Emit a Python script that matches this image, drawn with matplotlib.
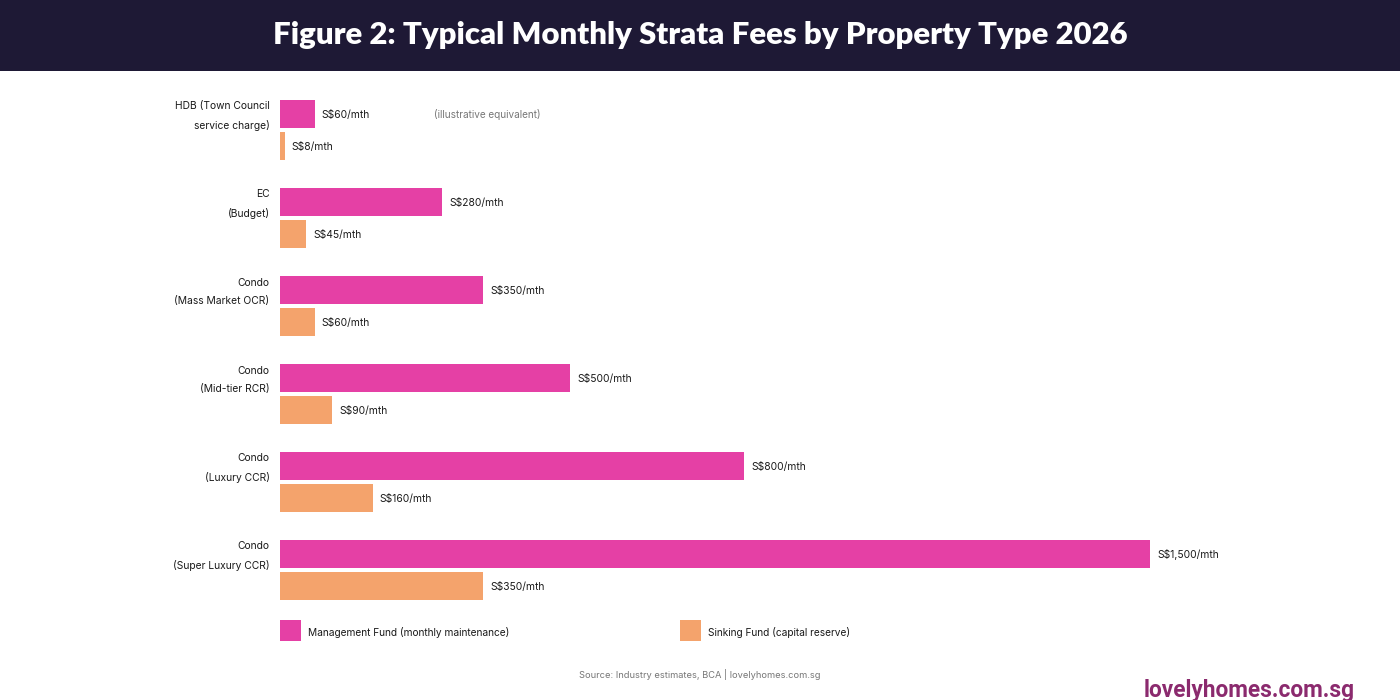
import matplotlib
matplotlib.use("Agg")
import matplotlib.pyplot as plt
from matplotlib.patches import Rectangle

categories = ["HDB (Town Council\nservice charge)", "EC\n(Budget)", "Condo\n(Mass Market OCR)",
              "Condo\n(Mid-tier RCR)", "Condo\n(Luxury CCR)", "Condo\n(Super Luxury CCR)"]
management = [60, 280, 350, 500, 800, 1500]
sinking = [8, 45, 60, 90, 160, 350]
mgmt_labels = ["S$60/mth", "S$280/mth", "S$350/mth", "S$500/mth", "S$800/mth", "S$1,500/mth"]
sink_labels = ["S$8/mth", "S$45/mth", "S$60/mth", "S$90/mth", "S$160/mth", "S$350/mth"]
legend_labels = ["Management Fund (monthly maintenance)", "Sinking Fund (capital reserve)"]

PINK = "#e540a5"
ORANGE = "#f4a36c"
NAVY = "#1e1935"
TXT = "#1a1a1a"
FONT = "Inter"

W, H = 1400, 700
fig = plt.figure(figsize=(14, 7), dpi=100)
fig.patch.set_facecolor("white")

# title bar
fig.add_artist(Rectangle((0, 1 - 71 / H), 1, 71 / H, transform=fig.transFigure,
                         facecolor=NAVY, edgecolor="none"))
fig.text(0.5, 1 - 35 / H, "Figure 2: Typical Monthly Strata Fees by Property Type 2026",
         ha="center", va="center", color="white", fontsize=22.4, fontweight="heavy",
         family="Lato")

# axes geometry: x 0 at px 280, 0.58 px per unit
left_px, width_px = 280, 1000
scale = 0.58
top_px, bot_px = 86, 614
ax = fig.add_axes([left_px / W, 1 - bot_px / H, width_px / W, (bot_px - top_px) / H])
ax.set_xlim(0, width_px / scale)
ax.set_ylim(5.5, -0.5)
ax.axis("off")

off = 16 / 88
bh = 28 / 88
ys = list(range(len(categories)))
ax.barh([y - off for y in ys], management, height=bh, color=PINK)
ax.barh([y + off for y in ys], sinking, height=bh, color=ORANGE)

for y, v, lab in zip(ys, management, mgmt_labels):
    ax.annotate(lab, (v, y - off), xytext=(5, -0.5), textcoords="offset points",
                ha="left", va="center", fontsize=7.4, color=TXT, family=FONT)
for y, v, lab in zip(ys, sinking, sink_labels):
    ax.annotate(lab, (v, y + off), xytext=(5, -0.5), textcoords="offset points",
                ha="left", va="center", fontsize=7.4, color=TXT, family=FONT)

for y, cat in zip(ys, categories):
    ax.annotate(cat, (0, y - off), xytext=(-7.5, -1.5), textcoords="offset points",
                ha="right", va="center", fontsize=7.4, color=TXT, family=FONT,
                linespacing=2.0)

fig.text(434 / W, 1 - 114 / H, "(illustrative equivalent)", ha="left", va="center",
         fontsize=7.2, color="#777777", family=FONT)

# legend
for x0, col, lab in [(280, PINK, legend_labels[0]), (680, ORANGE, legend_labels[1])]:
    fig.add_artist(Rectangle((x0 / W, 1 - 641 / H), 21 / W, 21 / H, transform=fig.transFigure,
                             facecolor=col, edgecolor="none"))
    fig.text((x0 + 28) / W, 1 - 632 / H, lab, ha="left", va="center", fontsize=7.3,
             color=TXT, family=FONT)

fig.text(0.5, 1 - 675 / H, "Source: Industry estimates, BCA | lovelyhomes.com.sg",
         ha="center", va="center", fontsize=6.7, color="#777777", family=FONT)
fig.text(1355 / W, 1 - 690 / H, "lovelyhomes.com.sg", ha="right", va="center",
         fontsize=16.3, fontweight="bold", color="#8b2a6e", family="Roboto")

fig.savefig("out.png", dpi=100)
